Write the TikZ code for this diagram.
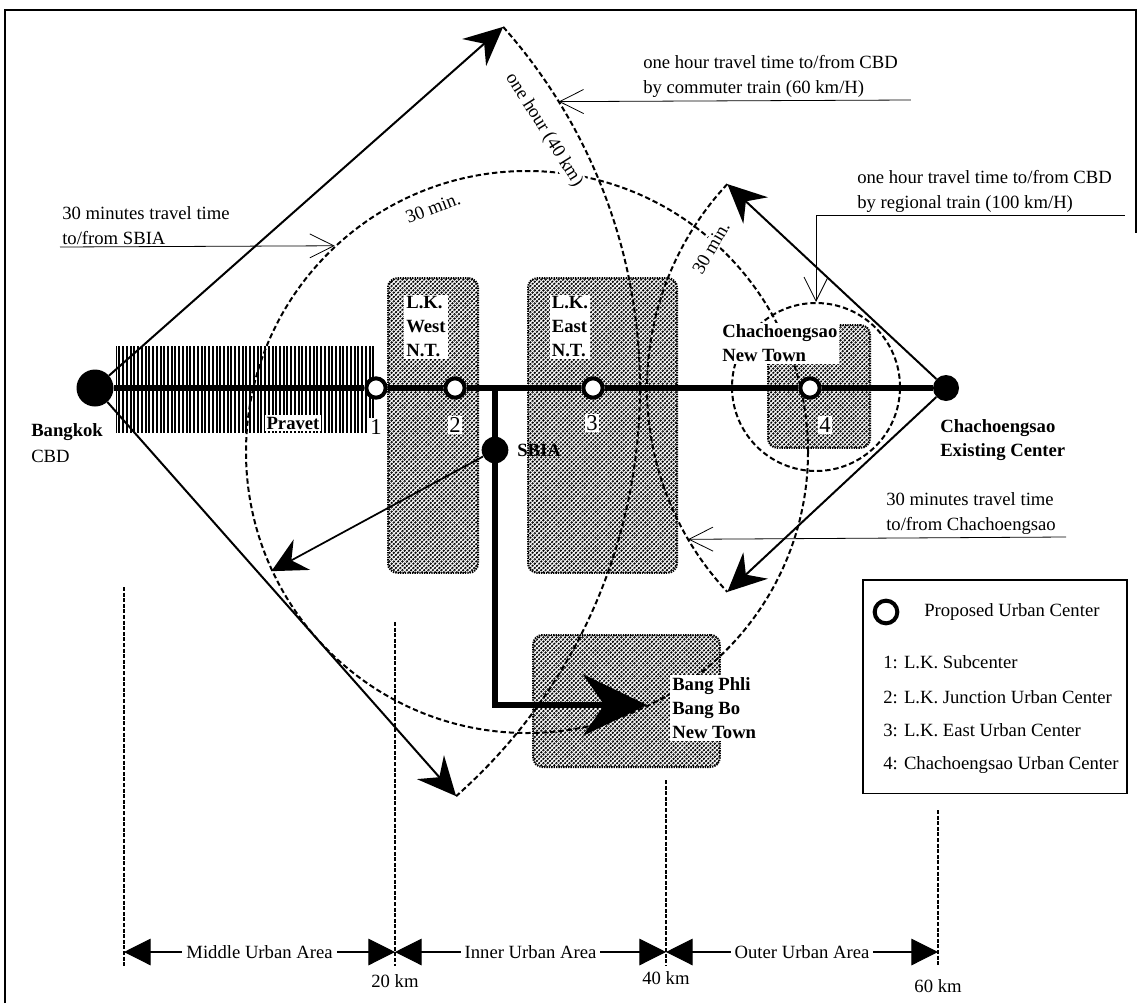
\documentclass[tikz,border=0pt]{standalone}
\usepackage{fontspec}
\setmainfont{Liberation Serif}
\usetikzlibrary{arrows.meta,calc,patterns.meta}

\begin{document}
\begin{tikzpicture}[x=0.75pt, y=-0.75pt, font=\fontsize{14}{19}\selectfont,
   rail/.style={line width=3.8pt},
   branch/.style={line width=4.6pt, -{Stealth[length=48pt,width=46pt,inset=16pt]}},
   diag/.style={line width=1.5pt, -{Stealth[length=29pt,width=27pt,inset=10pt]}},
   ring/.style={line width=1.5pt, dash pattern=on 4pt off 2.2pt},
   tick/.style={line width=1.4pt, dash pattern=on 3pt off 1.2pt},
   note/.style={line width=0.6pt, -{Straight Barb[length=18pt,width=18pt,line width=0.6pt]}},
   span/.style={line width=0.8pt, {Triangle[length=20pt,width=20pt]}-{Triangle[length=20pt,width=20pt]}},
   hatch/.style={pattern={Lines[angle=45,distance=2.3pt,line width=1.3pt]}, draw, line width=1.5pt,
                 dash pattern=on 1pt off 0.8pt, rounded corners=7pt, inner sep=0pt},
   stn/.style={circle, draw, line width=3pt, fill=white, minimum size=14.5pt, inner sep=0pt},
   dot/.style={circle, fill, inner sep=0pt},
   lbl/.style={font=\fontsize{14}{18}\selectfont\bfseries, align=left, inner sep=1.5pt},
   num/.style={font=\fontsize{17}{17}\selectfont, fill=white, inner sep=1pt},
   txt/.style={align=left, inner sep=1.5pt}]
  \useasboundingbox (0,0) rectangle (1138,1003);
  \draw[line width=1.5pt] (5,1003) |- (1136,10) -- (1136,233);

  \node[minimum width=194pt, minimum height=64pt, inner sep=0pt,
        pattern={Lines[angle=90,distance=2.8pt,line width=1.5pt]}] (pravet) at (245.5,389.5) {};
  \node[hatch, minimum width=67.5pt, minimum height=221pt] (west) at (433,425.5) {};
  \node[hatch, minimum width=111.75pt, minimum height=221pt] (east) at (602.5,425.5) {};
  \node[hatch, minimum width=76.5pt, minimum height=92pt] (newtown) at (819,386.5) {};
  \node[hatch, minimum width=140pt, minimum height=99pt] (bangphli) at (626.5,701) {};

  \node[dot, minimum size=27.75pt] (bkk) at (95,388) {};
  \node[dot, minimum size=19.5pt] (ccs) at (946,388) {};
  \coordinate (ntop) at ($(bkk)+(41.5:408.75pt)$);
  \coordinate (nbot) at ($(bkk)+(-48.5:408.75pt)$);
  \coordinate (ncom) at ($(bkk)+(31.7:408.75pt)$);
  \coordinate (ctop) at ($(ccs)+(137:224.25pt)$);
  \coordinate (cbot) at ($(ccs)+(223:224.25pt)$);
  \coordinate (cnote) at ($(ccs)+(210.4:224.25pt)$);

  \node[circle, draw, ring, minimum size=421.5pt, inner sep=0pt] (sring) at (527,452) {};
  \node[circle, draw, ring, minimum size=126pt, inner sep=0pt] (nring) at (816,387) {};
  \draw[ring] (ntop) arc[start angle=41.5, end angle=-48.5, radius=408.75pt];
  \draw[ring] (ctop) arc[start angle=137, end angle=223, radius=224.25pt];

  \draw[diag] (bkk) -- (ntop);
  \draw[diag] (bkk) -- (nbot);
  \draw[diag] (ccs) -- (ctop);
  \draw[diag] (ccs) -- (cbot);

  \node[stn] (c1) at (376,388) {};
  \node[stn] (c2) at (455,388) {};
  \node[stn] (c3) at (593,388) {};
  \node[stn] (c4) at (810,388) {};
  \draw[rail] (bkk) -- (c1) (c1) -- (c2) (c2) -- (c3) (c3) -- (c4) (c4) -- (ccs);
  \node[dot, minimum size=20pt] (sbia) at (495,450) {};
  \coordinate (bpt) at (647,705);
  \draw[branch] (sbia |- c2) |- (bpt);
  \draw[line width=1.3pt, -{Stealth[length=26pt,width=26pt,inset=9pt]}] (sbia) -- (sring.205);

  \node[txt, anchor=west] (lbkk) at (29,443) {\textbf{Bangkok}\\CBD};
  \node[lbl, anchor=west] (lccs) at (938,440) {Chachoengsao\\Existing Center};
  \node[lbl, fill=white, anchor=west] (lnt) at (720,343.5) {Chachoengsao\\New Town};
  \node[lbl, fill=white] (lwest) at (426,327) {L.K.\\West\\N.T.};
  \node[lbl, fill=white] (least) at (570,327) {L.K.\\East\\N.T.};
  \node[lbl, fill=white] (lpra) at (293,423) {Pravet};
  \node[lbl, anchor=west] (lsbia) at (515,450) {SBIA};
  \node[lbl, fill=white, anchor=west] (lbp) at (670,708) {Bang Phli\\Bang Bo\\New Town};
  \node[num] (n1) at (376,427) {1};
  \node[num] (n2) at (455,425) {2};
  \node[num] (n3) at (592,423) {3};
  \node[num] (n4) at (825,425) {4};

  \node[fill=white, inner sep=1pt, rotate=21] (m30s) at (433,208) {30 min.};
  \node[fill=white, inner sep=1pt, rotate=-58] (m40) at (544,130) {one hour (40 km)};
  \node[fill=white, inner sep=1pt, rotate=60] (m30c) at (711,248) {30 min.};

  \node[txt, anchor=south west] (tsbia) at (60,247) {30 minutes travel time\\to/from SBIA};
  \draw[note] (tsbia.south west) -- (sring.133);
  \node[txt, anchor=south west] (tcom) at (641,100) {one hour travel time to/from CBD\\by commuter train (60 km/H)};
  \draw[note] ([xshift=8pt]tcom.south east) -- (ncom);
  \node[txt, anchor=south west] (treg) at (855,215) {one hour travel time to/from CBD\\by regional train (100 km/H)};
  \draw[note] ([xshift=8pt]treg.south east) -- (treg.south -| nring.north) -- (nring.north);
  \node[txt, anchor=south west] (tcha) at (884,537) {30 minutes travel time\\to/from Chachoengsao};
  \draw[note] ([xshift=6pt]tcha.south east) -- (cnote);

  \coordinate (k0) at (124,952);
  \coordinate (k20) at (395,952);
  \coordinate (k40) at (666,952);
  \coordinate (k60) at (938,952);
  \draw[tick] (124,587) -- (124,966);
  \draw[tick] (395,622) -- (395,966);
  \draw[tick] (666,780) -- (666,966);
  \draw[tick] (938,810) -- (938,966);
  \draw[span] (k0) -- node[fill=white, inner xsep=3pt] (amid) {Middle Urban Area} (k20);
  \draw[span] (k20) -- node[fill=white, inner xsep=3pt] (ainn) {Inner Urban Area} (k40);
  \draw[span] (k40) -- node[fill=white, inner xsep=3pt] (aout) {Outer Urban Area} (k60);
  \node (l20) at (395,981) {20 km};
  \node (l40) at (666,978) {40 km};
  \node (l60) at (938,986) {60 km};

  \node[draw, line width=1pt, minimum width=198pt, minimum height=160pt, inner sep=0pt] (legend) at (995,686.5) {};
  \node[stn, minimum size=17pt] (lgo) at (886,612) {};
  \node[txt, anchor=west] (lg0) at (922,612) {Proposed Urban Center};
  \node[txt, anchor=west] (lg1) at (881,662) {1: L.K. Subcenter};
  \node[txt, anchor=west] (lg2) at (881,697) {2: L.K. Junction Urban Center};
  \node[txt, anchor=west] (lg3) at (881,730) {3: L.K. East Urban Center};
  \node[txt, anchor=west] (lg4) at (881,765) {4: Chachoengsao Urban Center};
\end{tikzpicture}
\end{document}
